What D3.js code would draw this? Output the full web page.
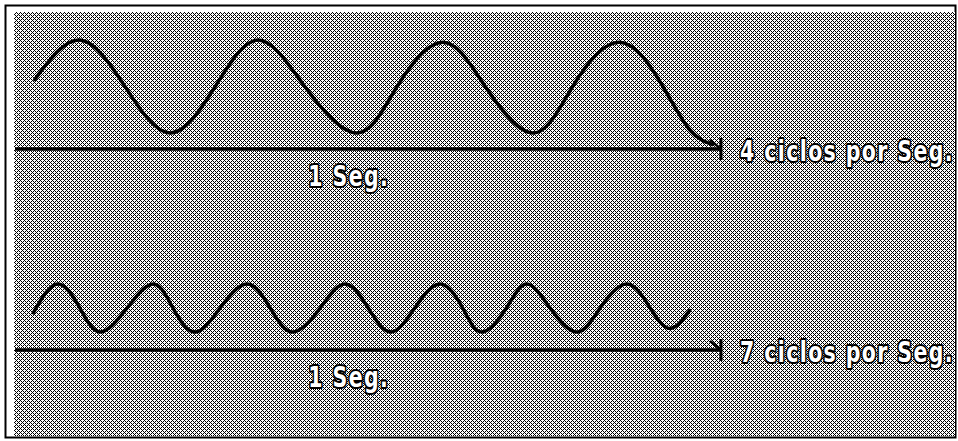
<!DOCTYPE html>
<html>
<head>
<meta charset="utf-8">
<script src="https://cdn.jsdelivr.net/npm/d3@7"></script>
<style>
  body { margin: 0; background: #fff; }
  svg { display: block; }
</style>
</head>
<body>
<svg></svg>
<script>
// time in seconds along the 1 s axis, v = normalised amplitude
let wave4T = [0.028, 0.092, 0.156, 0.220, 0.284, 0.345, 0.411, 0.485, 0.542, 0.607, 0.667, 0.735, 0.791, 0.858, 0.919, 0.957, 0.989]
let wave4V = [0.15, 1, 0, -1, 0, 1, 0, -1, 0, 0.95, 0, -1, 0, 0.95, 0, -0.93, -1.25]

let wave7T = [0.026, 0.060, 0.092, 0.121, 0.159, 0.196, 0.224, 0.255, 0.291, 0.329, 0.362, 0.394, 0.433, 0.468, 0.501, 0.533, 0.567, 0.603, 0.635, 0.662, 0.697, 0.726, 0.759, 0.797, 0.830, 0.868, 0.901, 0.929, 0.957]
let wave7V = [-0.2, 1, 0, -1, 0, 1, 0, -1, 0, 1, 0, -1, 0, 1, 0, -1, 0, 1, 0, -1, 0, 1, 0, -1, 0, 1, 0, -0.85, -0.1]

let cycleLabels = ['4 ciclos por Seg.', '7 ciclos por Seg.']
let durationLabel = '1 Seg.'

const W = 958
const H = 441

let svg = d3.select('svg').attr('width', W).attr('height', H)
let defs = svg.append('defs')

// dithered grey background, like the scanned halftone
let pat = defs.append('pattern')
  .attr('id', 'dither')
  .attr('patternUnits', 'userSpaceOnUse')
  .attr('width', 4)
  .attr('height', 4)
pat.append('rect').attr('width', 4).attr('height', 4).attr('fill', '#fff')
for (let y = 0; y < 4; y++) {
  for (let x = 0; x < 4; x++) {
    if ((x + y) % 4 === 0 || (x - y + 40) % 4 === 0) {
      pat.append('rect').attr('x', x).attr('y', y).attr('width', 1).attr('height', 1).attr('fill', '#000')
    }
  }
}

svg.append('rect')
  .attr('x', 5.5).attr('y', 5.5)
  .attr('width', 950).attr('height', 432)
  .attr('fill', '#fff')
  .attr('stroke', '#000')
  .attr('stroke-width', 2)

svg.append('rect')
  .attr('x', 14).attr('y', 12)
  .attr('width', 941).attr('height', 424)
  .attr('fill', 'url(#dither)')

let x = d3.scaleLinear().domain([0, 1]).range([15, 720])
let yTop = d3.scaleLinear().domain([-1, 1]).range([133, 40])
let yBot = d3.scaleLinear().domain([-1, 1]).range([332, 284])

function label (g, px, py, str) {
  // tall, narrow lettering: scale the glyphs vertically
  g.append('text')
    .attr('class', 'lbl')
    .attr('transform', 'translate(' + px + ',' + py + ') scale(1,1.35)')
    .text(str)
}

function drawRow (g, T, V, y, axisY, cycles) {
  let line = d3.line()
    .x(d => x(d[0]))
    .y(d => y(d[1]))
    .curve(d3.curveNatural)

  g.append('path')
    .attr('d', line(T.map((t, i) => [t, V[i]])))
    .attr('fill', 'none')
    .attr('stroke', '#000')
    .attr('stroke-width', 3.5)
    .attr('stroke-linecap', 'round')

  // 1 second axis
  g.append('line')
    .attr('x1', x(0)).attr('x2', x(1))
    .attr('y1', axisY).attr('y2', axisY)
    .attr('stroke', '#000')
    .attr('stroke-width', 3.5)

  g.append('line')
    .attr('x1', x(1) + 1).attr('x2', x(1) + 1)
    .attr('y1', axisY - 11).attr('y2', axisY + 11)
    .attr('stroke', '#000')
    .attr('stroke-width', 3)

  g.append('path')
    .attr('d', 'M' + (x(1) - 10) + ',' + (axisY - 9) + 'L' + (x(1) + 1) + ',' + axisY)
    .attr('stroke', '#000')
    .attr('stroke-width', 2.5)

  label(g, x(1) + 20, axisY + 12, cycles)
  label(g, x(0.416), axisY + 37, durationLabel)
}

drawRow(svg.append('g'), wave4T, wave4V, yTop, 149, cycleLabels[0])
drawRow(svg.append('g'), wave7T, wave7V, yBot, 350, cycleLabels[1])

svg.selectAll('.lbl')
  .attr('font-family', 'DejaVu Sans, sans-serif')
  .attr('font-weight', 'bold')
  .attr('font-size', 20.5)
  .attr('letter-spacing', 1.4)
  .attr('fill', '#fff')
  .attr('stroke', '#000')
  .attr('stroke-width', 3)
  .attr('stroke-linejoin', 'round')
  .attr('paint-order', 'stroke')
</script>
</body>
</html>
